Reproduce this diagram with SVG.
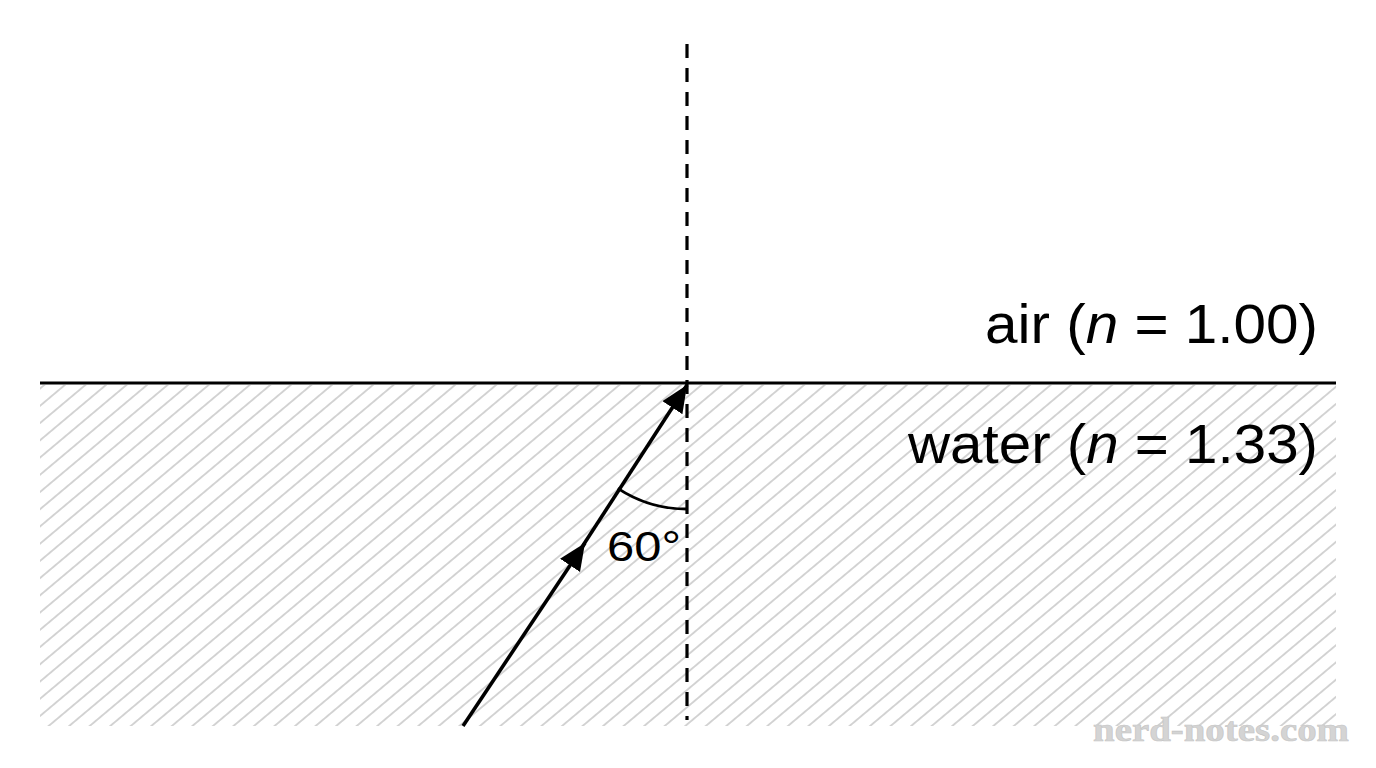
<svg xmlns="http://www.w3.org/2000/svg" width="1376" height="768" viewBox="0 0 1376 768">
<style>
.lbl{font-family:"Liberation Sans",Arial,Helvetica,sans-serif;fill:#000}
.ray{stroke:#000;stroke-width:3.6;fill:none}
.wm{font-family:"Liberation Serif","Times New Roman",serif;font-weight:bold;fill:#d4d4d4;stroke:#c4c4c4;stroke-width:0.6}
</style>
<defs>
<pattern id="hatch" patternUnits="userSpaceOnUse" width="40" height="13.2" patternTransform="rotate(-40)">
<line x1="0" y1="6.6" x2="40" y2="6.6" stroke="#a6a6a6" stroke-width="1.1"/>
</pattern>
<marker id="arr" markerUnits="userSpaceOnUse" markerWidth="30" markerHeight="26" refX="27" refY="12" orient="auto" viewBox="0 0 30 26">
<path d="M0,0 L27,12 L0,24 Z" fill="#000"/>
</marker>
</defs>
<rect width="1376" height="768" fill="#fff"/>
<g id="water">
<rect x="40" y="385" width="1296" height="341" fill="url(#hatch)"/>
</g>
<g id="surface">
<line x1="40" y1="383" x2="1336" y2="383" stroke="#000" stroke-width="3"/>
</g>
<g id="normal">
<line x1="687" y1="44" x2="687" y2="720" stroke="#000" stroke-width="3.2" stroke-dasharray="14 10"/>
</g>
<g id="connectors">
<path class="ray" d="M463,726 L585,543" marker-end="url(#arr)"/>
<path class="ray" d="M582,547 L687,385" marker-end="url(#arr)"/>
<path d="M617.8,488.3 A126,126 0 0 0 687,509" fill="none" stroke="#000" stroke-width="2.8"/>
</g>
<g id="angle-label">
<text class="lbl" x="607" y="561" font-size="43" textLength="74" lengthAdjust="spacingAndGlyphs">60°</text>
</g>
<g id="air-label">
<text class="lbl" x="1318" y="343" font-size="55" text-anchor="end" textLength="333" lengthAdjust="spacingAndGlyphs">air (<tspan font-style="italic">n</tspan> = 1.00)</text>
</g>
<g id="water-label">
<text class="lbl" x="1318" y="463" font-size="55" text-anchor="end" textLength="410" lengthAdjust="spacingAndGlyphs">water (<tspan font-style="italic">n</tspan> = 1.33)</text>
</g>
<g id="watermark">
<text class="wm" x="1093" y="741" font-size="34" textLength="256" lengthAdjust="spacingAndGlyphs">nerd-notes.com</text>
</g>
</svg>
